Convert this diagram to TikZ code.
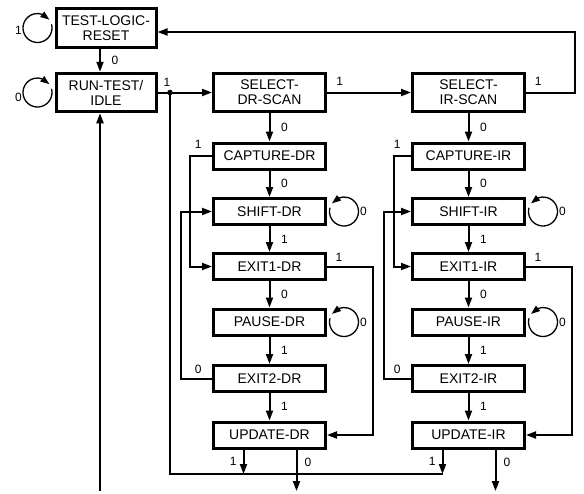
\documentclass[tikz,border=0pt]{standalone}
\usepackage{fontspec}
\setmainfont{Liberation Sans}
\usetikzlibrary{calc, positioning, arrows.meta, bending}

\tikzset{
  state/.style={draw, line width=3pt, fill=white, minimum width=112pt, minimum height=26pt, inner sep=0pt, align=center, font=\fontsize{14}{15}\selectfont},
  tall/.style={minimum height=38.5pt},
  lbl/.style={inner sep=0pt, font=\fontsize{12}{12}\selectfont},
  vlbl/.style={lbl, right=10.5pt},
  link/.style={line width=2pt},
  arr/.style={link, -{Triangle[length=10pt, width=7pt]}},
  selfloop/.style={line width=1.3pt, -{Triangle[length=9pt, width=6.5pt]}},
}

\begin{document}
\begin{tikzpicture}[x=1pt, y=-1pt]
\useasboundingbox (0,0) rectangle (584,493);

% reset and idle
\node[state, tall, minimum width=100pt] (tlr) at (106,28) {TEST-LOGIC-\\RESET};
\node[state, tall, minimum width=100pt] (rti) at (106,92.5) {RUN-TEST/\\IDLE};

% data register column
\node[state, tall] (sdr) at (269.5,92.5) {SELECT-\\DR-SCAN};
\node[state] (cdr) at (269.5,156) {CAPTURE-DR};
\node[state] (shdr) at (269.5,211.5) {SHIFT-DR};
\node[state] (x1dr) at (269.5,266.5) {EXIT1-DR};
\node[state] (pdr) at (269.5,322) {PAUSE-DR};
\node[state] (x2dr) at (269.5,378.5) {EXIT2-DR};
\node[state] (udr) at (269.5,435) {UPDATE-DR};

% instruction register column
\node[state, tall] (sir) at (468.5,92.5) {SELECT-\\IR-SCAN};
\node[state] (cir) at (468.5,156) {CAPTURE-IR};
\node[state] (shir) at (468.5,211.5) {SHIFT-IR};
\node[state] (x1ir) at (468.5,266.5) {EXIT1-IR};
\node[state] (pir) at (468.5,322) {PAUSE-IR};
\node[state] (x2ir) at (468.5,378.5) {EXIT2-IR};
\node[state] (uir) at (468.5,435) {UPDATE-IR};

\coordinate (idle) at (100,491);
\coordinate (dot) at (170,92.5);
\coordinate (ret) at (170,474);
\coordinate (tr) at (575,32);
\coordinate (bot) at (0,491);
\coordinate (o1dr) at ($(udr.south)+(-26,0)$);
\coordinate (o0dr) at ($(udr.south)+(27,0)$);
\coordinate (o1ir) at ($(uir.south)+(-26,0)$);
\coordinate (o0ir) at ($(uir.south)+(27,0)$);

% left part
\draw[selfloop] ($(tlr.west)+(-36,2)$) node[lbl]{1} ($(tlr.west)+(-17,0)+(15:14.5pt)$) arc[start angle=15, end angle=-325, radius=14.5pt];
\draw[selfloop] ($(rti.west)+(-36,5)$) node[lbl]{0} ($(rti.west)+(-17,0)+(15:14.5pt)$) arc[start angle=15, end angle=-325, radius=14.5pt];
\draw[arr] (tlr.south -| idle) -- node[vlbl]{0} (rti.north -| idle);
\draw[arr] (idle) -- (idle |- rti.south);
\draw[arr] (rti.east) -- (sdr.west);
\fill (dot) circle (2.8pt) node[lbl, above=6pt, xshift=-3pt]{1};
\draw[link] (dot) -- (ret) -- (ret -| o1ir);
\draw[arr] (sdr) -- node[lbl, pos=0.15, above=6pt]{1} (sir);
\draw[arr] (sir.east) -- node[lbl, pos=0.25, above=6pt]{1} (sir.east -| tr) -- (tr) -- (tr -| tlr.east);

% DR transitions
\draw[arr] (sdr) -- node[vlbl]{0} (cdr);
\draw[arr] (cdr) -- node[vlbl]{0} (shdr);
\draw[arr] (shdr) -- node[vlbl]{1} (x1dr);
\draw[arr] (x1dr) -- node[vlbl]{0} (pdr);
\draw[arr] (pdr) -- node[vlbl]{1} (x2dr);
\draw[arr] (x2dr) -- node[vlbl]{1} (udr);
\draw[arr] (cdr.west) node[lbl, above left=6.5pt and 9.5pt]{1} -- ++(-22,0) |- (x1dr.west);
\draw[arr] (x2dr.west) node[lbl, above left=4.2pt and 9.5pt]{0} -- ++(-31,0) |- (shdr.west);
\draw[arr] (x1dr.east) node[lbl, above right=4.2pt and 7.5pt]{1} -- ++(46,0) |- (udr.east);
\draw[selfloop] ($(shdr.east)+(36.5,0)$) node[lbl]{0} ($(shdr.east)+(17,0)+(165:14.5pt)$) arc[start angle=165, end angle=506, radius=14.5pt];
\draw[selfloop] ($(pdr.east)+(36.5,0)$) node[lbl]{0} ($(pdr.east)+(17,0)+(165:14.5pt)$) arc[start angle=165, end angle=506, radius=14.5pt];
\draw[arr] (o1dr) -- node[lbl, left=6pt]{1} (o1dr |- ret);
\draw[arr] (o0dr) -- node[lbl, right=7pt, pos=0.3]{0} (o0dr |- bot);

% IR transitions
\draw[arr] (sir) -- node[vlbl]{0} (cir);
\draw[arr] (cir) -- node[vlbl]{0} (shir);
\draw[arr] (shir) -- node[vlbl]{1} (x1ir);
\draw[arr] (x1ir) -- node[vlbl]{0} (pir);
\draw[arr] (pir) -- node[vlbl]{1} (x2ir);
\draw[arr] (x2ir) -- node[vlbl]{1} (uir);
\draw[arr] (cir.west) node[lbl, above left=6.5pt and 9.5pt]{1} -- ++(-17,0) |- (x1ir.west);
\draw[arr] (x2ir.west) node[lbl, above left=4.2pt and 9.5pt]{0} -- ++(-27,0) |- (shir.west);
\draw[arr] (x1ir.east) node[lbl, above right=4.2pt and 7.5pt]{1} -- ++(46,0) |- (uir.east);
\draw[selfloop] ($(shir.east)+(36.5,0)$) node[lbl]{0} ($(shir.east)+(17,0)+(165:14.5pt)$) arc[start angle=165, end angle=506, radius=14.5pt];
\draw[selfloop] ($(pir.east)+(36.5,0)$) node[lbl]{0} ($(pir.east)+(17,0)+(165:14.5pt)$) arc[start angle=165, end angle=506, radius=14.5pt];
\draw[arr] (o1ir) -- node[lbl, left=6pt]{1} (o1ir |- ret);
\draw[arr] (o0ir) -- node[lbl, right=7pt, pos=0.3]{0} (o0ir |- bot);
\end{tikzpicture}
\end{document}
